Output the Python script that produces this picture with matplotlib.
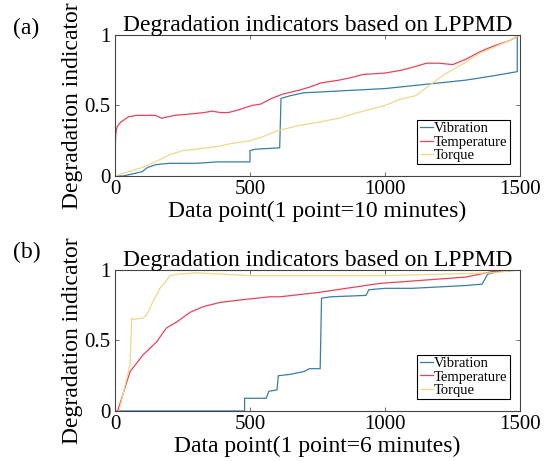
import matplotlib
matplotlib.use('Agg')
import matplotlib.pyplot as plt

plt.rcParams['font.family'] = ['Liberation Serif', 'DejaVu Serif']

# (a) 1 point = 10 minutes
a_temp_x = [0, 3, 8, 20, 50, 80, 130, 150, 173, 220, 280, 330, 360, 390, 420, 460, 506, 540,
            580, 620, 685, 720, 763, 830, 880, 918, 1000, 1060, 1100, 1154, 1200, 1251, 1302,
            1350, 1400, 1461, 1490, 1500]
a_temp_y = [0.15, 0.30, 0.35, 0.38, 0.42, 0.43, 0.43, 0.43, 0.41, 0.43, 0.44, 0.45, 0.46, 0.45,
            0.45, 0.47, 0.50, 0.51, 0.55, 0.58, 0.61, 0.63, 0.66, 0.68, 0.70, 0.72, 0.73, 0.75,
            0.77, 0.80, 0.80, 0.79, 0.83, 0.88, 0.92, 0.96, 0.99, 1.0]

a_vib_x = [0, 30, 100, 120, 150, 200, 300, 380, 500, 500, 520, 610, 615, 650, 700, 800, 900,
           1000, 1100, 1200, 1300, 1400, 1490, 1490, 1500]
a_vib_y = [0.0, 0.0, 0.03, 0.06, 0.08, 0.09, 0.09, 0.10, 0.10, 0.18, 0.19, 0.20, 0.55, 0.57,
           0.59, 0.60, 0.61, 0.62, 0.64, 0.66, 0.68, 0.71, 0.74, 1.0, 1.0]

a_torq_x = [0, 50, 100, 150, 200, 250, 300, 380, 430, 500, 550, 600, 685, 750, 830, 900, 1000,
            1050, 1114, 1177, 1220, 1302, 1350, 1400, 1460, 1500]
a_torq_y = [0.0, 0.03, 0.06, 0.10, 0.15, 0.18, 0.19, 0.21, 0.23, 0.25, 0.28, 0.32, 0.36, 0.38,
            0.41, 0.45, 0.50, 0.54, 0.57, 0.66, 0.72, 0.81, 0.87, 0.91, 0.96, 1.0]

# (b) 1 point = 6 minutes
b_temp_x = [10, 56, 105, 154, 191, 228, 278, 327, 389, 475, 573, 611, 750, 981, 1300, 1400, 1500]
b_temp_y = [0.0, 0.28, 0.40, 0.49, 0.59, 0.63, 0.70, 0.74, 0.77, 0.79, 0.81, 0.81, 0.84, 0.905,
            0.95, 0.99, 1.0]

b_vib_x = [0, 480, 480, 560, 570, 600, 605, 650, 700, 720, 760, 765, 800, 930, 940, 1000, 1100,
           1200, 1300, 1360, 1380, 1420, 1500]
b_vib_y = [0.0, 0.0, 0.09, 0.09, 0.14, 0.15, 0.25, 0.26, 0.28, 0.30, 0.30, 0.80, 0.81, 0.82,
           0.86, 0.87, 0.87, 0.88, 0.89, 0.90, 0.97, 0.99, 1.0]

b_torq_x = [15, 56, 62, 68, 105, 117, 142, 166, 185, 203, 230, 300, 400, 500, 600, 800, 1000,
            1200, 1400, 1500]
b_torq_y = [0.0, 0.33, 0.66, 0.65, 0.66, 0.68, 0.78, 0.87, 0.91, 0.96, 0.97, 0.98, 0.97, 0.96,
            0.96, 0.96, 0.96, 0.97, 0.98, 1.0]

labels = ['Vibration', 'Temperature', 'Torque']
colors = ['#3a7ea3', '#e8435c', '#ecd98c']

panels = [
    ('(a)', 'Data point(1 point=10 minutes)',
     [(a_vib_x, a_vib_y), (a_temp_x, a_temp_y), (a_torq_x, a_torq_y)],
     [0.2102, 0.6182, 0.7404, 0.3059], 0.939),
    ('(b)', 'Data point(1 point=6 minutes)',
     [(b_vib_x, b_vib_y), (b_temp_x, b_temp_y), (b_torq_x, b_torq_y)],
     [0.2102, 0.1085, 0.7404, 0.3058], 0.453),
]

fig = plt.figure(figsize=(5.47, 4.61), dpi=100)
for tag, xlab, series, pos, tag_y in panels:
    ax = fig.add_axes(pos)
    for (x, y), lab, c in zip(series, labels, colors):
        ax.plot(x, y, color=c, lw=0.9, label=lab)
    ax.set_xlim(0, 1500)
    ax.set_ylim(0, 1)
    ax.set_xticks([0, 500, 1000, 1500])
    ax.set_yticks([0, 0.5, 1])
    ax.set_yticklabels(['0', '0.5', '1'])
    ax.tick_params(direction='in', length=3, width=0.6, top=True, right=True,
                   labelsize=15, pad=3, color='#555555')
    for s in ax.spines.values():
        s.set_linewidth(0.8)
        s.set_color('#444444')
    ax.set_title('Degradation indicators based on LPPMD', fontsize=17, pad=3)
    ax.set_xlabel(xlab, fontsize=17, labelpad=1)
    ax.set_ylabel('Degradation indicator', fontsize=17, labelpad=1)
    leg = ax.legend(loc='lower right', bbox_to_anchor=(0.975, 0.085), fontsize=10.5,
                    handlelength=0.9, handletextpad=0.1, borderpad=0.15, labelspacing=0.0,
                    borderaxespad=0, fancybox=False, framealpha=1, edgecolor='black')
    leg.get_frame().set_linewidth(0.8)
    fig.text(0.024, tag_y, tag, fontsize=17, va='center', ha='left')

fig.savefig('out.png', dpi=100)
